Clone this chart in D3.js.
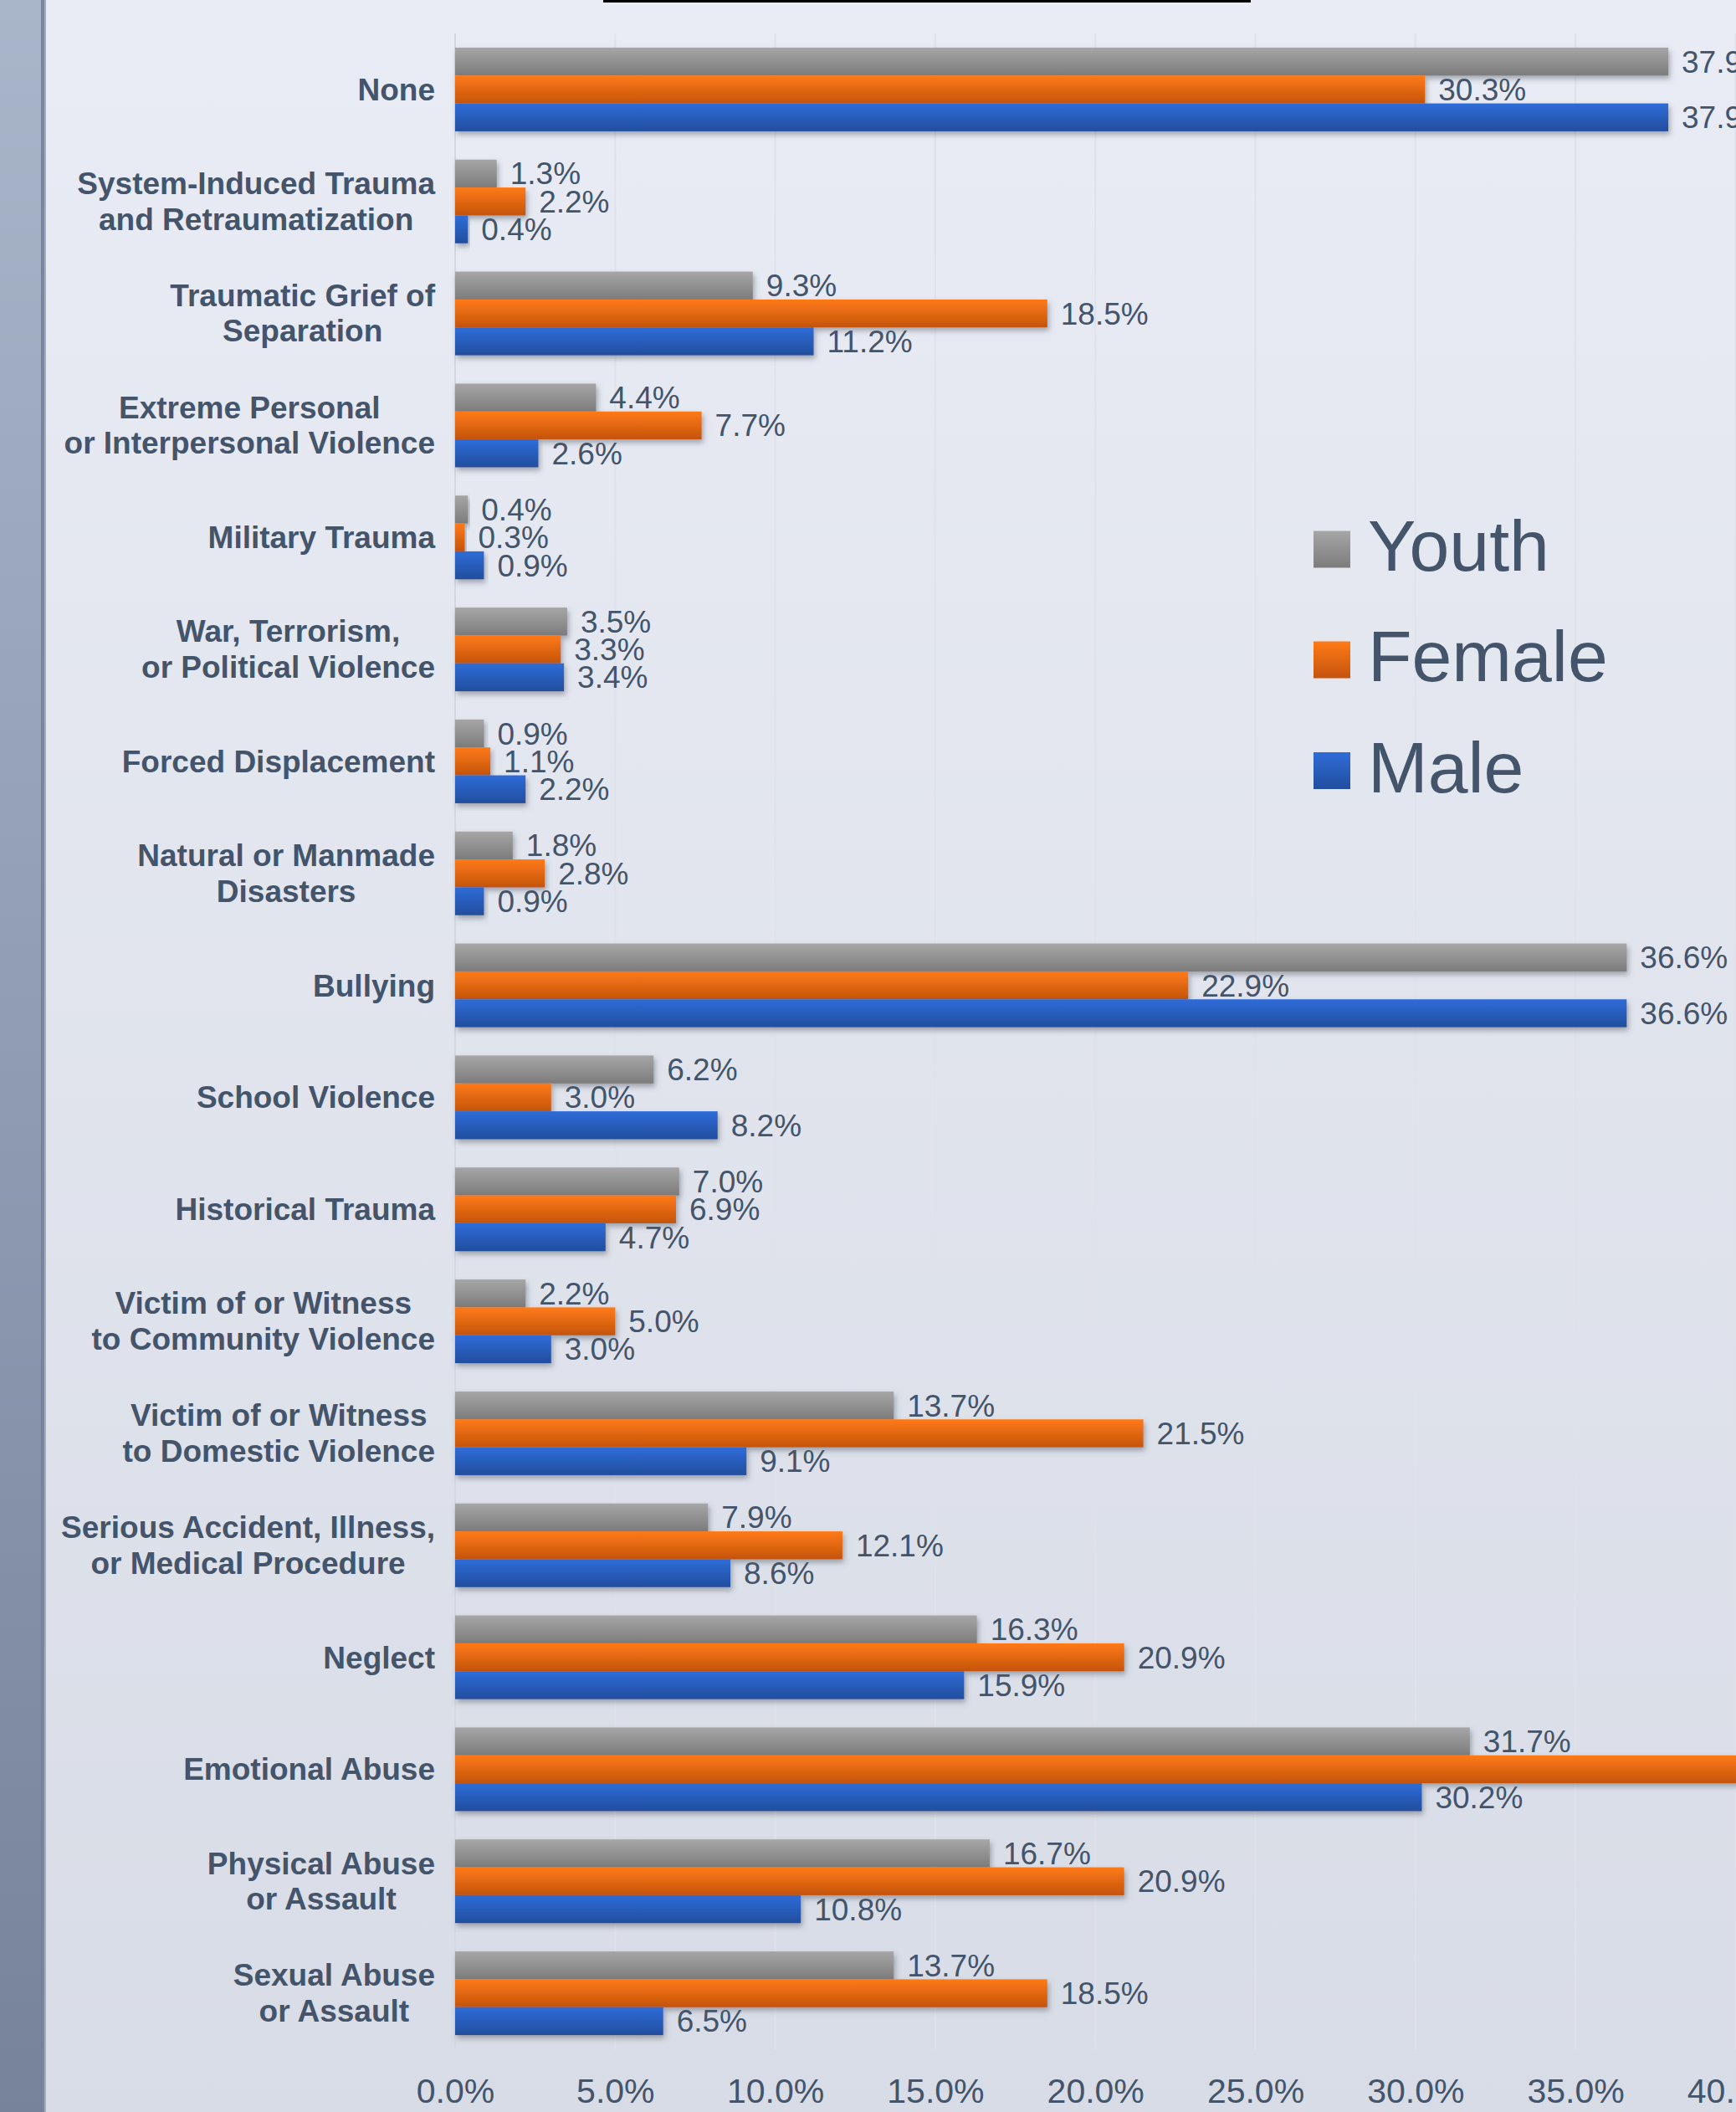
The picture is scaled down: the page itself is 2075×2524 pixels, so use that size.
<!DOCTYPE html>
<html>
<head>
<meta charset="utf-8">
<script src="https://cdn.jsdelivr.net/npm/d3@7"></script>
<style>
  html, body { margin: 0; padding: 0; overflow: hidden; background: #e3e6ee; }
  svg { display: block; }
</style>
</head>
<body>
<svg id="chart" width="2075" height="2524"></svg>
<script>
// ---- Data ----
const categories = [
  "None",
  "System-Induced Trauma|and Retraumatization",
  "Traumatic Grief of|Separation",
  "Extreme Personal|or Interpersonal Violence",
  "Military Trauma",
  "War, Terrorism,|or Political Violence",
  "Forced Displacement",
  "Natural or Manmade|Disasters",
  "Bullying",
  "School Violence",
  "Historical Trauma",
  "Victim of or Witness|to Community Violence",
  "Victim of or Witness|to Domestic Violence",
  "Serious Accident, Illness,|or Medical Procedure",
  "Neglect",
  "Emotional Abuse",
  "Physical Abuse|or Assault",
  "Sexual Abuse|or Assault"
];
const seriesNames = ["Youth", "Female", "Male"];
const youth  = [37.9, 1.3, 9.3, 4.4, 0.4, 3.5, 0.9, 1.8, 36.6, 6.2, 7.0, 2.2, 13.7, 7.9, 16.3, 31.7, 16.7, 13.7];
const female = [30.3, 2.2, 18.5, 7.7, 0.3, 3.3, 1.1, 2.8, 22.9, 3.0, 6.9, 5.0, 21.5, 12.1, 20.9, 41.0, 20.9, 18.5];
const male   = [37.9, 0.4, 11.2, 2.6, 0.9, 3.4, 2.2, 0.9, 36.6, 8.2, 4.7, 3.0, 9.1, 8.6, 15.9, 30.2, 10.8, 6.5];
const tickValues = [0, 5, 10, 15, 20, 25, 30, 35, 40];

const seriesValues = { Youth: youth, Female: female, Male: male };
const seriesGrad = {
  Youth:  ["#a6a6a6", "#7c7c7c"],
  Female: ["#ff7a15", "#c4540e"],
  Male:   ["#2f6cd8", "#214e9e"]
};
const textColor = "#44546A";

const svg = d3.select("#chart");
const W = 2075, H = 2524;
const defs = svg.append("defs");

// background gradient
const bg = defs.append("linearGradient").attr("id", "bgGrad").attr("x1", 0).attr("y1", 0).attr("x2", 0).attr("y2", 1);
bg.append("stop").attr("offset", "0%").attr("stop-color", "#e9ecf4");
bg.append("stop").attr("offset", "100%").attr("stop-color", "#d8dce6");
const band = defs.append("linearGradient").attr("id", "bandGrad").attr("x1", 0).attr("y1", 0).attr("x2", 0).attr("y2", 1);
band.append("stop").attr("offset", "0%").attr("stop-color", "#a9b5c9");
band.append("stop").attr("offset", "100%").attr("stop-color", "#76839b");
seriesNames.forEach(s => {
  const g = defs.append("linearGradient").attr("id", "g" + s).attr("x1", 0).attr("y1", 0).attr("x2", 0).attr("y2", 1);
  g.append("stop").attr("offset", "0%").attr("stop-color", seriesGrad[s][0]);
  g.append("stop").attr("offset", "100%").attr("stop-color", seriesGrad[s][1]);
});
const f = defs.append("filter").attr("id", "shadow").attr("x", "-5%").attr("y", "-30%").attr("width", "120%").attr("height", "180%");
f.append("feDropShadow").attr("dx", 2).attr("dy", 4).attr("stdDeviation", 3).attr("flood-color", "#5a5f6a").attr("flood-opacity", 0.5);

svg.append("rect").attr("width", W).attr("height", H).attr("fill", "url(#bgGrad)");
// left decorative band
svg.append("rect").attr("x", 0).attr("y", 0).attr("width", 50).attr("height", H).attr("fill", "url(#bandGrad)");
svg.append("rect").attr("x", 49).attr("y", 0).attr("width", 4).attr("height", H).attr("fill", "#6f7c94").attr("opacity", 0.9);
svg.append("rect").attr("x", 53).attr("y", 0).attr("width", 2).attr("height", H).attr("fill", "#a3adbd");
// title underline remnant
svg.append("rect").attr("x", 721).attr("y", 0).attr("width", 774).attr("height", 3).attr("fill", "#000");

// ---- Scales ----
const x = d3.scaleLinear().domain([0, 40]).range([544, 2074.4]);
const pad = 0.2528;
const y0 = d3.scaleBand().domain(categories).range([40, 2449]).paddingInner(pad).paddingOuter(pad / 2);
const y1 = d3.scaleBand().domain(seriesNames).range([0, y0.bandwidth()]);

// gridlines
svg.append("g").selectAll("line").data(tickValues).join("line")
  .attr("x1", d => x(d)).attr("x2", d => x(d))
  .attr("y1", 40).attr("y2", 2449)
  .attr("stroke", d => d === 0 ? "#d4d8e0" : "#dfe2ea").attr("stroke-width", 2);

// x axis labels
const xAxis = d3.axisBottom(x).tickValues(tickValues).tickFormat(d => d3.format(".1f")(d) + "%").tickSize(0).tickPadding(0);
const ax = svg.append("g").attr("transform", "translate(0,2513)").call(xAxis);
ax.select(".domain").remove();
ax.selectAll("text")
  .attr("y", 0).attr("dy", 0)
  .attr("font-family", "'Liberation Sans', Arial, sans-serif")
  .attr("font-size", 41).attr("fill", textColor);

// bars
const groups = svg.append("g").selectAll("g").data(categories).join("g")
  .attr("transform", d => `translate(0,${y0(d)})`);
groups.each(function(cat, i) {
  const g = d3.select(this);
  seriesNames.forEach(s => {
    const v = seriesValues[s][i];
    g.append("rect")
      .attr("x", x(0)).attr("y", y1(s))
      .attr("width", x(v) - x(0)).attr("height", y1.bandwidth())
      .attr("fill", "url(#g" + s + ")")
      .attr("filter", "url(#shadow)");
  });
  seriesNames.forEach(s => {
    const v = seriesValues[s][i];
    g.append("text")
      .attr("x", x(v) + 16).attr("y", y1(s) + y1.bandwidth() / 2 + 13)
      .attr("font-family", "'Liberation Sans', Arial, sans-serif")
      .attr("font-size", 37).attr("fill", textColor)
      .text(d3.format(".1f")(v) + "%");
  });
});

// category labels
const labelRight = 520;
categories.forEach(cat => {
  const lines = cat.split("|");
  const cy = y0(cat) + y0.bandwidth() / 2;
  const t = svg.append("g");
  const texts = lines.map((ln, k) => {
    const baseline = lines.length === 1 ? cy + 13 : cy + 12.5 + (k === 0 ? -21.25 : 21.25);
    return t.append("text")
      .attr("y", baseline)
      .attr("font-family", "'Liberation Sans', Arial, sans-serif")
      .attr("font-weight", "bold")
      .attr("font-size", 37).attr("fill", textColor)
      .attr("text-anchor", "middle")
      .text(ln);
  });
  const maxW = d3.max(texts, tx => tx.node().getComputedTextLength());
  texts.forEach(tx => tx.attr("x", labelRight - maxW / 2));
});

// legend
const legendY = [656.5, 788.5, 921];
seriesNames.forEach((s, i) => {
  svg.append("rect").attr("x", 1570).attr("y", legendY[i] - 22).attr("width", 44).attr("height", 44)
    .attr("fill", "url(#g" + s + ")");
  svg.append("text").attr("x", 1635).attr("y", legendY[i] + 25.5)
    .attr("font-family", "'Liberation Sans', Arial, sans-serif")
    .attr("font-size", 86).attr("fill", textColor)
    .text(s);
});
</script>
</body>
</html>
